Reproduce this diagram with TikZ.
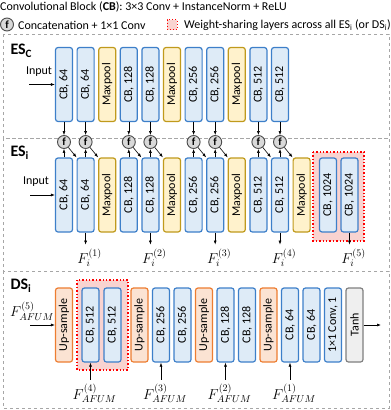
\documentclass[tikz,border=0pt]{standalone}
\usepackage{fontspec}
\setmainfont{Carlito}
\usetikzlibrary{arrows.meta,calc}

\definecolor{cbfill}{HTML}{DEEBF7}
\definecolor{cbdraw}{HTML}{3D7FC9}
\definecolor{mpfill}{HTML}{FFF2CC}
\definecolor{mpdraw}{HTML}{C09A1C}
\definecolor{upfill}{HTML}{FBE3D3}
\definecolor{updraw}{HTML}{ED7D31}
\definecolor{thfill}{HTML}{EFEFEF}
\definecolor{thdraw}{HTML}{7F7F7F}
\definecolor{wsfill}{HTML}{F9D3D0}

\tikzset{
  blk/.style={rotate=90, rounded corners=2.5pt, line width=1.2pt,
    minimum width=74pt, minimum height=17pt, inner sep=0pt},
  cb/.style={blk, draw=cbdraw, fill=cbfill},
  pool/.style={blk, draw=mpdraw, fill=mpfill},
  upbox/.style={blk, draw=updraw, fill=upfill},
  tanhbox/.style={blk, draw=thdraw, fill=thfill},
  fuse/.style={circle, draw=black!70, fill=black!15, line width=0.9pt,
    minimum size=13pt, inner sep=0pt, font=\bfseries\fontsize{11}{11}\selectfont},
  share/.style={draw=red, dotted, line width=1.4pt, fill=wsfill},
  panel/.style={draw=black!35, dashed, line width=0.6pt},
  arr/.style={-{Latex[length=4pt,width=3pt]}, line width=0.6pt},
  title/.style={anchor=west, font=\bfseries\fontsize{16}{16}\selectfont},
  feat/.style={inner sep=0pt, font=\fontsize{14.5}{16}\selectfont},
}

\begin{document}
\begin{tikzpicture}[x=1pt, y=-1pt, font=\fontsize{12}{14}\selectfont]
\useasboundingbox (0,0) rectangle (391,410);

\def\Pitch{21.6}
\def\Xo{64}

% legend
\node[anchor=west, inner sep=0pt] (lgcb) at (0,7) {Convolutional Block (\textbf{CB}): 3×3 Conv + InstanceNorm + ReLU};
\node[fuse] (lgf) at (7,24.5) {f};
\node[anchor=west, inner sep=0pt] (lgcat) at (18,25) {Concatenation + 1×1 Conv};
\node[share, minimum size=10pt, inner sep=0pt, line width=1pt] (lgws) at (172,24.5) {};
\node[anchor=west, inner sep=0pt] (lgtxt) at (184,25) {Weight-sharing layers across all ES\textsubscript{i} (or DS\textsubscript{i})};

% panels
\draw[panel] (3,34) rectangle (389,138);
\draw[panel] (3,138) rectangle (389,271);
\draw[panel] (3,271) rectangle (389,408);
\node[title] (tc) at (7,51) {ES\textsubscript{C}};
\node[title] (ti) at (7,153) {ES\textsubscript{i}};
\node[title] (td) at (7,286) {DS\textsubscript{i}};

% weight-sharing boxes
\draw[share] (313,152) rectangle (364,241);
\draw[share] (77,280) rectangle (128,370);

% ES_C
\foreach \st/\tx [count=\i] in {cb/{CB, 64}, cb/{CB, 64}, pool/Maxpool, cb/{CB, 128}, cb/{CB, 128}, pool/Maxpool,
    cb/{CB, 256}, cb/{CB, 256}, pool/Maxpool, cb/{CB, 512}, cb/{CB, 512}}
  \node[\st] (c\i) at ({\Xo+\Pitch*(\i-1)},84.5) {\tx};

% ES_i
\foreach \st/\tx [count=\i] in {cb/{CB, 64}, cb/{CB, 64}, pool/Maxpool, cb/{CB, 128}, cb/{CB, 128}, pool/Maxpool,
    cb/{CB, 256}, cb/{CB, 256}, pool/Maxpool, cb/{CB, 512}, cb/{CB, 512}, pool/Maxpool}
  \node[\st] (s\i) at ({\Xo+\Pitch*(\i-1)},195) {\tx};
\node[cb] (s13) at (328,195) {CB, 1024};
\node[cb] (s14) at (349.5,195) {CB, 1024};

\node[anchor=south, inner sep=0pt] (inc) at (39,77) {Input};
\coordinate (inca) at (29,84.5);
\draw[arr] (inca) -- (c1);
\node[anchor=south, inner sep=0pt] (ini) at (36,187) {Input};
\coordinate (inia) at (30,195);
\draw[arr] (inia) -- (s1);

% fusion
\foreach \i in {1,2,4,5,7,8,10,11} {
  \pgfmathtruncatemacro\j{\i+1}
  \node[fuse] (f\i) at ({\Xo+\Pitch*(\i-1)},142) {f};
  \draw[arr] (c\i.west) -- (f\i);
  \draw[arr] (s\i.east) -- (f\i);
  \draw[arr] (f\i) -- (s\j.north east);
}

% encoder features
\foreach \k/\i in {1/2, 2/5, 3/8, 4/11, 5/14} {
  \node[feat] (fi\k) at ($(s\i.west)+(4,25)$) {$F_i^{(\k)}$};
  \draw[arr] (s\i.west) -- ++(0,12);
}

% DS_i
\node[upbox] (d1) at (64,325) {Up-sample};
\node[cb] (d2) at (90.5,325) {CB, 512};
\node[cb] (d3) at (112.5,325) {CB, 512};
\foreach \st/\tx [count=\i from 4] in {upbox/Up-sample, cb/{CB, 256}, cb/{CB, 256}, upbox/Up-sample,
    cb/{CB, 128}, cb/{CB, 128}, upbox/Up-sample, cb/{CB, 64}, cb/{CB, 64}, cb/{1×1 Conv, 1}, tanhbox/Tanh}
  \node[\st] (d\i) at ({139.5+21.5*(\i-4)},325) {\tx};

\node[feat] (fa5) at (32,311) {$F_{AFUM}^{(5)}$};
\coordinate (fa5a) at (30,325);
\draw[arr] (fa5a) -- (d1);
\coordinate (outa) at (381,325);
\draw[arr] (d14) -- (outa);

\foreach \k/\i in {4/2, 3/5, 2/8, 1/11} {
  \node[feat] (fa\k) at ($(d\i.west)+(4,31)$) {$F_{AFUM}^{(\k)}$};
  \draw[arr] ($(d\i.west)+(0,17)$) -- (d\i.west);
}

\end{tikzpicture}
\end{document}
